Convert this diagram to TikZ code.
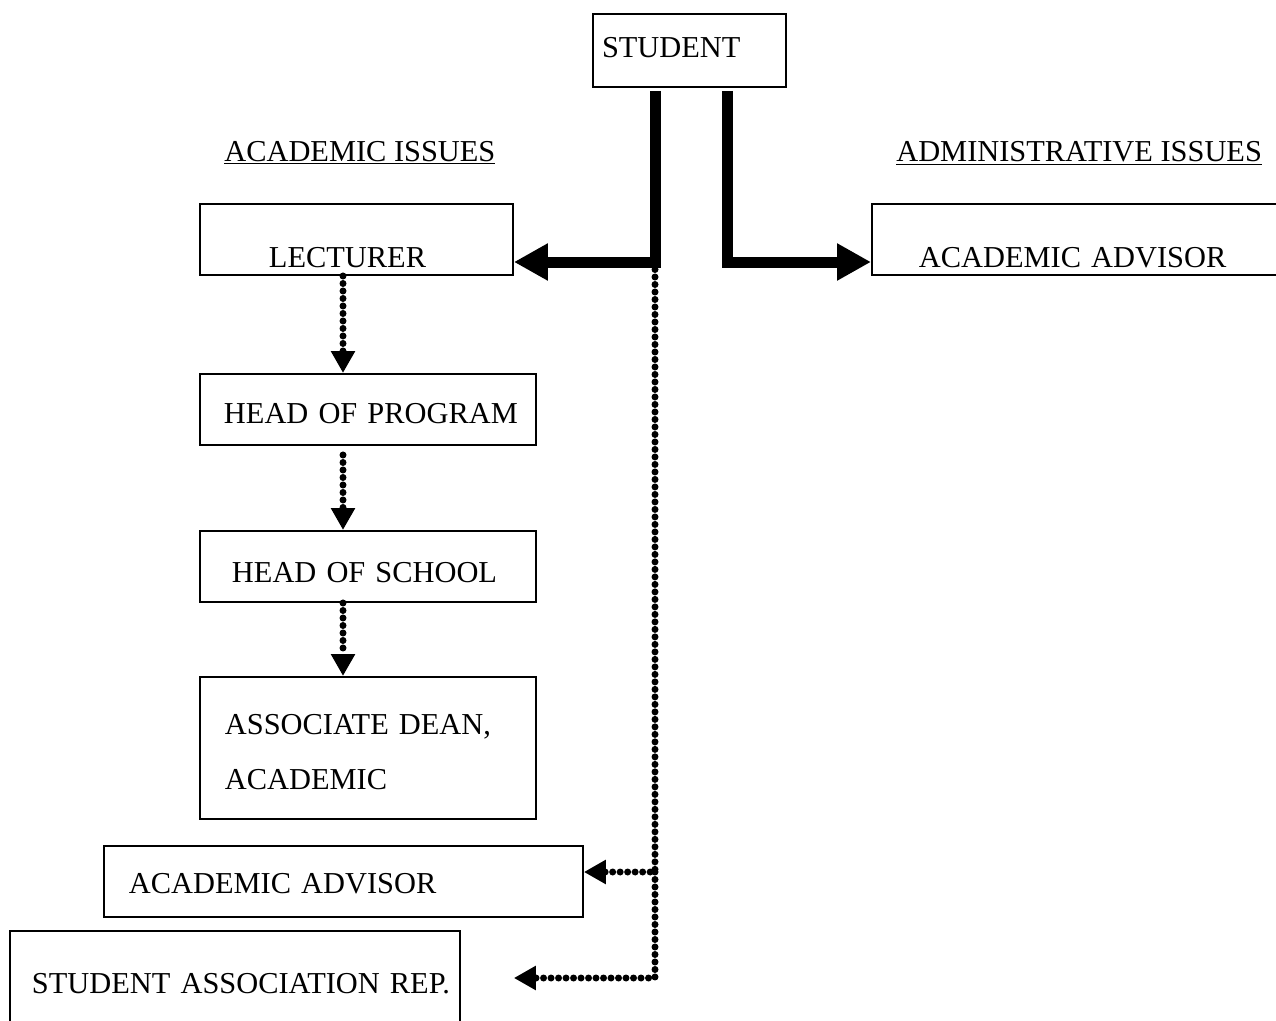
\documentclass[tikz,border=0pt]{standalone}
\usepackage{fontspec}
\setmainfont{Liberation Serif}
\usetikzlibrary{arrows.meta}

\newcommand{\boxfont}{\fontsize{17.3pt}{31pt}\selectfont}
\tikzstyle{box}=[draw,line width=0.04cm,inner ysep=0pt,anchor=north west,align=left,font=\boxfont]
\tikzstyle{heading}=[inner sep=0pt,anchor=base west,font=\boxfont]
\tikzstyle{heavy} = [draw,line width=0.22cm,-{Triangle[length=0.68cm,width=0.7cm]}]
\tikzstyle{dotline} = [draw,line width=0.14cm,line cap=round,dash pattern=on 0pt off 0.15cm,-{Triangle[length=0.44cm,width=0.46cm]}]

\begin{document}
\begin{tikzpicture}[x=0.02cm,y=-0.02cm]
                              \useasboundingbox (0,0) rectangle (1276,1021);
                              % First we draw the boxes
                              \foreach \pos/\name/\wid/\pad/\hgt/\tht/\tdp/\la in {{(592,13)/student/3.5/0.18/1.46/0.30/0/STUDENT},
                                    {(199,203)/lecturer/3.5/1.38/1.42/1.14/0/LECTURER},
                                    {(871,203)/advisor/6.5/0.94/1.42/1.14/0/\mbox{ACADEMIC ADVISOR}},
                                    {(199,373)/hop/5.76/0.48/1.42/0.58/0/\mbox{HEAD OF PROGRAM}},
                                    {(199,530)/hos/5.44/0.64/1.42/0.66/0/\mbox{HEAD OF SCHOOL}},
                                    {(199,676)/assoc/5.72/0.50/2.84/0.50/1.02/{ASSOCIATE DEAN,\\ACADEMIC}},
                                    {(103,845)/advisorb/8.58/0.50/1.42/0.50/0/\mbox{ACADEMIC ADVISOR}},
                                    {(9,930)/sarep/8.12/0.44/2.2/0.32/0/\mbox{STUDENT ASSOCIATION REP.}}}
                                    \node[box,text width=\wid cm,inner xsep=\pad cm,minimum height=\hgt cm,
                                          text height=\tht cm,text depth=\tdp cm] (\name) at \pos {\la};
                              % the two headings
                              \node[heading] (academic) at (224,161) {\underline{ACADEMIC ISSUES}};
                              \node[heading] (admin) at (896,161) {\underline{ADMINISTRATIVE ISSUES}};
                              % Connect the boxes
                              \coordinate (split) at (655,262);
                              \coordinate (turn) at (727,262);
                              \coordinate (col) at (343,0);
                              \coordinate (branch) at (655,872);
                              \coordinate (foot) at (655,978);
                              \path[heavy,shorten <=0.06cm] (split |- student.south) -- (split) -- (lecturer.east |- split);
                              \path[heavy,shorten <=0.06cm] (turn |- student.south) -- (turn) -- (advisor.west |- turn);
                              \path[dotline] (col |- lecturer.south) -- (col |- hop.north);
                              \path[dotline,shorten <=0.18cm] (col |- hop.south) -- (col |- hos.north);
                              \path[dotline] (col |- hos.south) -- (col |- assoc.north);
                              \path[dotline] (split) -- (branch) -- (advisorb.east |- branch);
                              \path[dotline] (branch) -- (foot) -- ([xshift=1.06cm]sarep.east |- foot);
                        \end{tikzpicture}
\end{document}
